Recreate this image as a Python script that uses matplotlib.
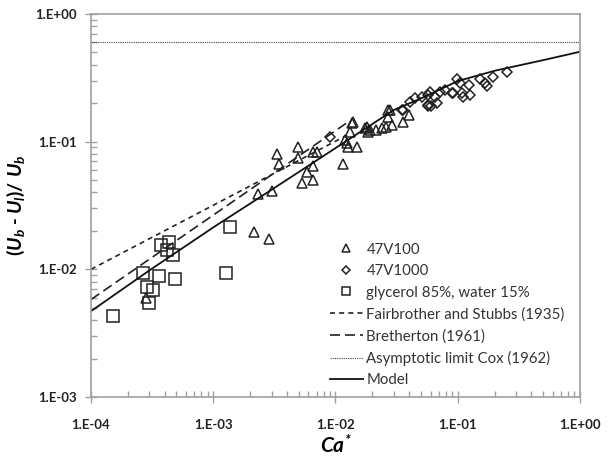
import matplotlib
matplotlib.use("Agg")
import matplotlib.pyplot as plt
from matplotlib.ticker import LogLocator, NullFormatter

plt.rcParams['font.family'] = ['Lato', 'DejaVu Sans']
plt.rcParams['mathtext.fontset'] = 'custom'
plt.rcParams['mathtext.rm'] = 'Lato'
plt.rcParams['mathtext.it'] = 'Lato:italic'
plt.rcParams['mathtext.bf'] = 'Lato:bold'
plt.rcParams['mathtext.bfit'] = 'Lato:italic:bold'

# 47V100 (triangles)
tri_ca = [2.82e-4, 2.17e-3, 2.88e-3, 2.34e-3, 3.02e-3, 3.30e-3, 3.47e-3, 4.91e-3,
          4.91e-3, 6.51e-3, 7.02e-3, 6.51e-3, 5.88e-3, 5.29e-3, 6.51e-3, 1.16e-2,
          1.27e-2, 1.49e-2, 1.20e-2, 1.40e-2, 1.31e-2, 1.80e-2, 1.85e-2, 2.16e-2,
          2.59e-2, 2.70e-2, 2.70e-2, 3.59e-2, 4.00e-2, 1.91e-2, 1.235e-2, 1.36e-2,
          1.74e-2, 2.39e-2, 2.79e-2, 2.88e-2]
tri_m = [5.93e-3, 1.97e-2, 1.72e-2, 3.89e-2, 4.13e-2, 7.95e-2, 6.64e-2, 9.12e-2,
         7.48e-2, 8.34e-2, 8.34e-2, 6.44e-2, 5.81e-2, 4.76e-2, 5.00e-2, 6.68e-2,
         9.12e-2, 9.12e-2, 1.03e-1, 1.43e-1, 1.20e-1, 1.31e-1, 1.20e-1, 1.23e-1,
         1.31e-1, 1.77e-1, 1.57e-1, 1.43e-1, 1.62e-1, 1.23e-1, 9.70e-2, 1.39e-1,
         1.27e-1, 1.27e-1, 1.77e-1, 1.35e-1]

# 47V1000 (diamonds)
dia_ca = [9.0e-3, 3.48e-2, 4.07e-2, 4.47e-2, 5.07e-2, 5.74e-2, 5.93e-2, 5.74e-2,
          6.73e-2, 6.5e-2, 7.16e-2, 7.87e-2, 8.92e-2, 9.91e-2, 0.104, 0.108,
          0.111, 0.124, 0.126, 0.152, 0.167, 0.172, 0.193, 0.251, 5.67e-2, 9.2e-2,
          3.59e-2, 6.0e-2]
dia_m = [0.109, 0.177, 0.205, 0.218, 0.225, 0.232, 0.246, 0.194,
         0.200, 0.225, 0.246, 0.254, 0.239, 0.307, 0.286, 0.239,
         0.225, 0.277, 0.232, 0.307, 0.286, 0.272, 0.322, 0.353, 0.190, 0.242,
         0.177, 0.190]

# glycerol 85%, water 15% (squares)
sq_ca = [1.50e-4, 2.68e-4, 2.85e-4, 3.20e-4, 3.00e-4, 3.62e-4, 3.72e-4, 4.37e-4,
         4.21e-4, 4.66e-4, 4.84e-4, 1.27e-3, 1.37e-3]
sq_m = [4.34e-3, 9.3e-3, 7.23e-3, 6.88e-3, 5.42e-3, 8.86e-3, 1.55e-2, 1.64e-2,
        1.42e-2, 1.29e-2, 8.35e-3, 9.3e-3, 2.16e-2]

# correlations
fs_ca = [1e-4, 1.3e-2]
fs_m = [1.0e-2, 0.115]
br_ca = [1e-4, 1.3e-2]
br_m = [5.8e-3, 0.145]
cox_ca = [1e-4, 1.0]
cox_m = [0.6, 0.6]
model_ca = [1e-4, 3e-4, 1e-3, 3e-3, 1e-2, 3e-2, 5e-2, 1e-1, 2e-1, 3e-1, 5e-1, 1.0]
model_m = [4.7e-3, 9.8e-3, 2.13e-2, 4.2e-2, 8.9e-2, 0.177, 0.218, 0.298, 0.359,
           0.391, 0.435, 0.506]

fig = plt.figure(figsize=(6.14, 4.57), dpi=100)
ax = fig.add_axes([0.1482, 0.1313, 0.7964, 0.8381])

ax.plot(tri_ca, tri_m, ls='none', marker='^', ms=7, mfc='none', mec='#222222', mew=1.1,
        label='47V100')
ax.plot(dia_ca, dia_m, ls='none', marker='D', ms=5, mfc='none', mec='#222222', mew=1.1,
        label='47V1000')
ax.plot(sq_ca, sq_m, ls='none', marker='s', ms=8, mfc='none', mec='#222222', mew=1.1,
        label='glycerol 85%, water 15%')
ax.plot(fs_ca, fs_m, color='#222222', lw=1.2, dashes=(3, 2.5),
        label='Fairbrother and Stubbs (1935)')
ax.plot(br_ca, br_m, color='#222222', lw=1.2, dashes=(6, 3),
        label='Bretherton (1961)')
ax.plot(cox_ca, cox_m, color='#444444', lw=0.8, dashes=(1, 1),
        label='Asymptotic limit Cox (1962)')
ax.plot(model_ca, model_m, color='#111111', lw=1.3, label='Model')

ax.set_xscale('log')
ax.set_yscale('log')
ax.set_xlim(1e-4, 1)
ax.set_ylim(1e-3, 1)

ax.xaxis.set_minor_locator(LogLocator(base=10, subs=range(2, 10), numticks=20))
ax.yaxis.set_minor_locator(LogLocator(base=10, subs=range(2, 10), numticks=20))
ax.xaxis.set_minor_formatter(NullFormatter())
ax.yaxis.set_minor_formatter(NullFormatter())

xt = [1e-4, 1e-3, 1e-2, 1e-1, 1]
ax.set_xticks(xt)
ax.set_xticklabels(['1.E-04', '1.E-03', '1.E-02', '1.E-01', '1.E+00'])
yt = [1e-3, 1e-2, 1e-1, 1]
ax.set_yticks(yt)
ax.set_yticklabels(['1.E-03', '1.E-02', '1.E-01', '1.E+00'])

for lab in ax.get_xticklabels() + ax.get_yticklabels():
    lab.set_fontweight('bold')
    lab.set_fontsize(9.5)
    lab.set_color('#222222')

ax.tick_params(which='major', direction='inout', length=8, width=1, color='#a0a0a0', pad=12)
ax.tick_params(which='minor', direction='in', length=4, width=1, color='#a0a0a0')
ax.tick_params(axis='y', which='major', pad=6)
for s in ax.spines.values():
    s.set_color('#a0a0a0')
    s.set_linewidth(1.2)

ax.set_xlabel(r'$\mathbfit{Ca}^{\mathbfit{*}}$', fontsize=15, labelpad=2)
ax.set_ylabel(r'$\mathbf{(}\mathbfit{U}_{\mathbfit{b}}$ - $\mathbfit{U}_{\mathbfit{l}}\mathbf{)/}\ \mathbfit{U}_{\mathbfit{b}}$',
              fontsize=14, fontweight='bold', fontstyle='italic', labelpad=6)

leg = ax.legend(loc='upper left', bbox_to_anchor=(0.527, 0.482), bbox_transform=fig.transFigure,
                frameon=False, fontsize=10.8, handlelength=2.2, handletextpad=0.25,
                labelspacing=0.5, borderaxespad=0, markerscale=0.75)
for t in leg.get_texts():
    t.set_color('#333333')

fig.savefig('out.png', dpi=100)
